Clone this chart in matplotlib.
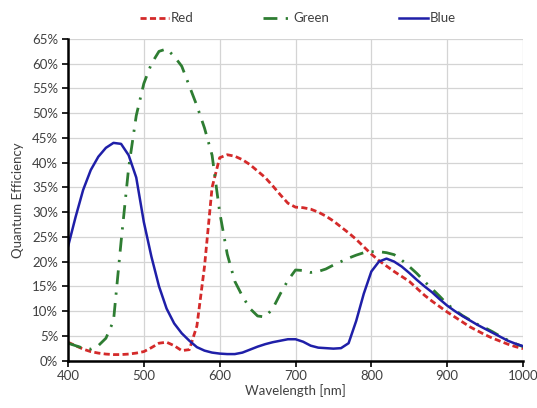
import matplotlib
matplotlib.use("Agg")
import matplotlib.pyplot as plt
from matplotlib.ticker import FuncFormatter, MultipleLocator

plt.rcParams['font.family'] = ['Lato', 'DejaVu Sans']

wavelength = [400, 410, 420, 430, 440, 450, 460, 470, 480, 490,
              500, 510, 520, 530, 540, 550, 560, 570, 580, 590,
              600, 610, 620, 630, 640, 650, 660, 670, 680, 690,
              700, 710, 720, 730, 740, 750, 760, 770, 780, 790,
              800, 810, 820, 830, 840, 850, 860, 870, 880, 890,
              900, 910, 920, 930, 940, 950, 960, 970, 980, 990, 1000]

red = [3.7, 3.0, 2.3, 1.8, 1.5, 1.3, 1.2, 1.2, 1.3, 1.5,
       1.8, 2.6, 3.5, 3.7, 3.0, 2.0, 2.2, 7.0, 19.0, 35.0,
       41.0, 41.6, 41.3, 40.6, 39.6, 38.3, 37.0, 35.3, 33.5, 31.8,
       31.0, 30.9, 30.6, 30.0, 29.2, 28.2, 27.0, 25.8, 24.5, 23.0,
       21.5, 20.2, 19.1, 18.0, 17.0, 16.0, 14.6, 13.2, 12.0, 10.9,
       9.8, 8.8, 7.8, 6.8, 6.0, 5.2, 4.5, 3.9, 3.3, 2.8, 2.4]

green = [3.5, 3.0, 2.5, 2.3, 3.0, 4.5, 8.0, 24.0, 39.0, 49.5,
         56.0, 60.0, 62.5, 63.0, 61.5, 59.5, 55.5, 51.5, 47.0, 41.5,
         30.0, 21.5, 16.0, 13.0, 10.5, 9.0, 8.8, 10.5, 13.5, 16.2,
         18.3, 18.2, 17.8, 18.0, 18.5, 19.3, 20.0, 20.7, 21.3, 21.8,
         22.0, 22.0, 21.8, 21.4, 20.3, 19.0, 17.6, 16.0, 14.5, 13.0,
         11.4, 10.2, 9.1, 8.2, 7.3, 6.6, 5.8, 4.9, 4.1, 3.4, 2.8]

blue = [23.0, 29.0, 34.5, 38.5, 41.2, 43.0, 44.0, 43.8, 41.5, 37.0,
        28.0, 21.0, 15.0, 10.5, 7.5, 5.5, 4.0, 2.7, 2.0, 1.6,
        1.4, 1.3, 1.3, 1.6, 2.2, 2.8, 3.3, 3.7, 4.0, 4.3,
        4.3, 3.8, 3.0, 2.6, 2.5, 2.4, 2.5, 3.5, 8.0, 13.5,
        18.0, 20.0, 20.6, 20.0, 19.0, 17.7, 16.3, 15.0, 13.8, 12.4,
        11.1, 10.0, 9.0, 8.1, 7.2, 6.4, 5.6, 4.8, 4.0, 3.4, 2.9]

series_names = ["Red", "Green", "Blue"]
x_ticks = [400, 500, 600, 700, 800, 900, 1000]

fig = plt.figure(figsize=(5.37, 4.08), dpi=100)
ax = fig.add_axes([0.1266, 0.1164, 0.8474, 0.788])

ax.plot(wavelength, red, color='#d42a2a', lw=2.0, linestyle=(0, (2.2, 1.2)), label=series_names[0])
ax.plot(wavelength, green, color='#2e7d32', lw=2.0, linestyle=(0, (5, 3, 0.8, 3)), label=series_names[1])
ax.plot(wavelength, blue, color='#1f1fa8', lw=1.8, linestyle='-', label=series_names[2])

ax.set_xlim(400, 1000)
ax.set_ylim(0, 65)
ax.set_xticks(x_ticks)
ax.yaxis.set_major_locator(MultipleLocator(5))
ax.yaxis.set_major_formatter(FuncFormatter(lambda v, p: f"{int(round(v))}%"))

ax.grid(True, color='#d4d4d4', lw=0.9)
ax.set_axisbelow(True)
for s in ['top', 'right']:
    ax.spines[s].set_visible(False)
for s in ['left', 'bottom']:
    ax.spines[s].set_color('black')
    ax.spines[s].set_linewidth(1.8)
ax.tick_params(axis='both', direction='out', length=4, width=1.2, colors='black',
               labelsize=9.5, labelcolor='#404040', pad=3)

ax.set_xlabel("Wavelength [nm]", fontsize=9.5, color='#404040', labelpad=1)
ax.set_ylabel("Quantum Efficiency", fontsize=9.5, color='#404040', labelpad=6)

leg = fig.legend(loc='center', bbox_to_anchor=(0.555, 0.955), ncol=3, frameon=False,
                 fontsize=9.5, handlelength=2.2, handletextpad=0.1, columnspacing=5.3)
for t in leg.get_texts():
    t.set_color('#404040')

fig.savefig("out.png", dpi=100)
